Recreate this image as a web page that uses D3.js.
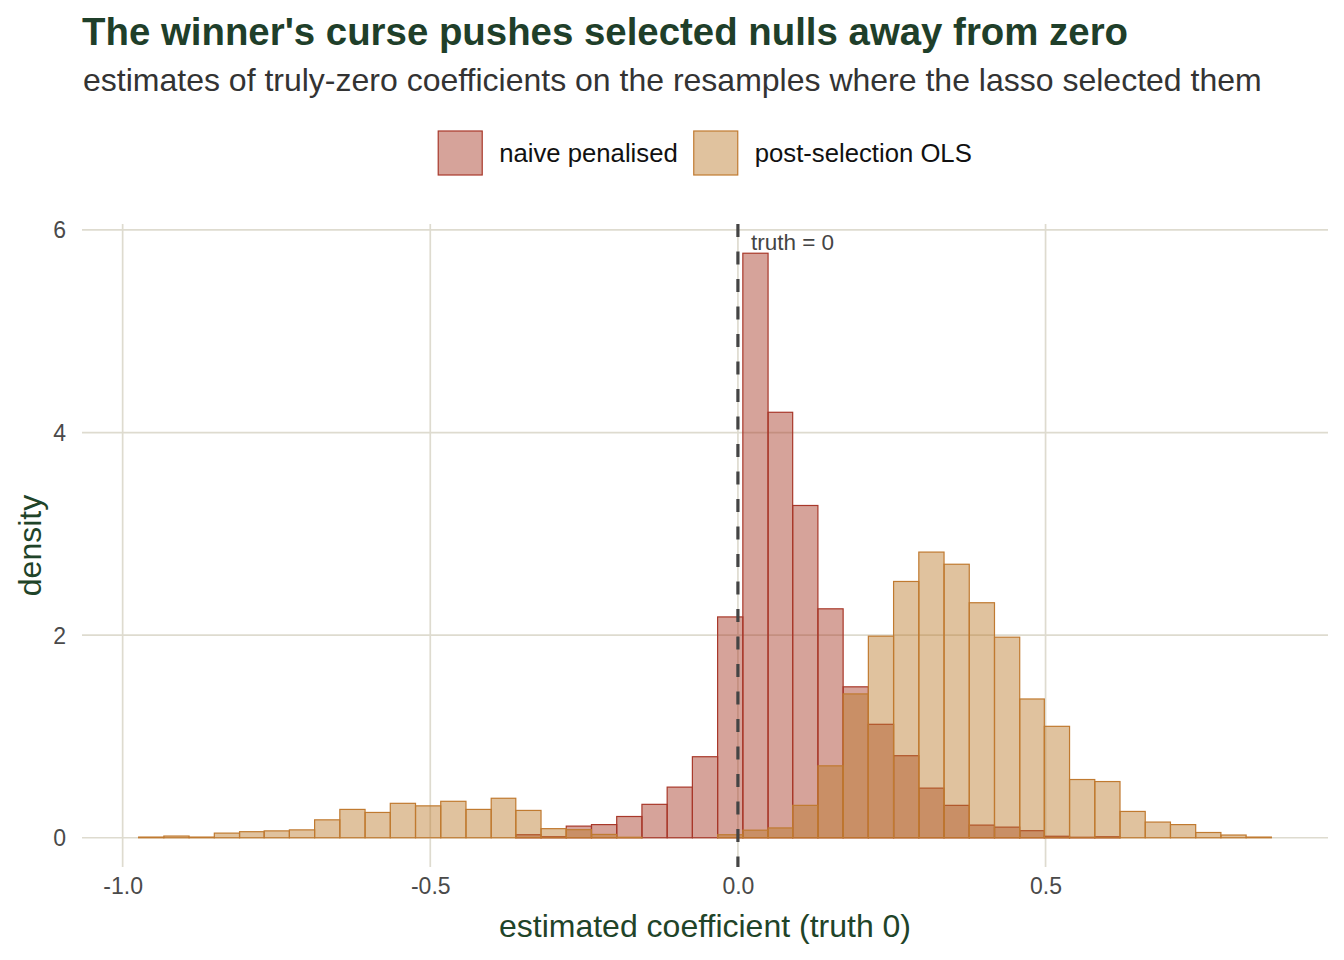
<!DOCTYPE html>
<html>
<head>
<meta charset="utf-8">
<script src="https://cdn.jsdelivr.net/npm/d3@7"></script>
<style>
  html, body { margin: 0; padding: 0; background: #ffffff; }
  svg { display: block; font-family: "Liberation Sans", Arial, Helvetica, sans-serif; }
</style>
</head>
<body>
<svg id="chart" width="1344" height="960"></svg>
<script>
// ---- data ----
const binEdges = [-0.974, -0.933, -0.892, -0.851, -0.810, -0.770, -0.729, -0.688, -0.647, -0.606,
  -0.565, -0.524, -0.483, -0.442, -0.401, -0.361, -0.320, -0.279, -0.238, -0.197,
  -0.156, -0.115, -0.074, -0.033, 0.008, 0.049, 0.089, 0.130, 0.171, 0.212,
  0.253, 0.294, 0.335, 0.376, 0.417, 0.458, 0.498, 0.539, 0.580, 0.621,
  0.662, 0.703, 0.744, 0.785, 0.826, 0.867];
const naiveDensity = [0, 0, 0, 0, 0, 0, 0, 0, 0, 0,
  0, 0, 0, 0, 0, 0.03, 0.01, 0.115, 0.13, 0.21,
  0.33, 0.50, 0.80, 2.18, 5.77, 4.20, 3.28, 2.26, 1.49, 1.12,
  0.81, 0.49, 0.32, 0.125, 0.105, 0.07, 0.015, 0.005, 0.01, 0,
  0, 0, 0, 0, 0];
const olsDensity = [0.007, 0.017, 0.007, 0.046, 0.06, 0.068, 0.078, 0.177, 0.28, 0.25,
  0.34, 0.315, 0.36, 0.28, 0.39, 0.27, 0.09, 0.08, 0.033, 0.005,
  0, 0, 0, 0.03, 0.075, 0.097, 0.32, 0.71, 1.42, 1.99,
  2.53, 2.82, 2.70, 2.32, 1.98, 1.37, 1.10, 0.575, 0.555, 0.26,
  0.155, 0.13, 0.052, 0.027, 0.007];
const seriesNames = ["naive penalised", "post-selection OLS"];
const xTicks = [-1.0, -0.5, 0.0, 0.5];
const xTickLabels = ["-1.0", "-0.5", "0.0", "0.5"];
const yTicks = [0, 2, 4, 6];
const yTickLabels = ["0", "2", "4", "6"];
const truthValue = 0;
const titleText = "The winner's curse pushes selected nulls away from zero";
const subtitleText = "estimates of truly-zero coefficients on the resamples where the lasso selected them";
const xTitle = "estimated coefficient (truth 0)";
const yTitle = "density";
const truthLabel = "truth = 0";

// ---- layout ----
const panel = { left: 82, right: 1328, top: 224, bottom: 867 };
const fills = ["#a43320", "#ba7727"];
const strokes = ["#a8382a", "#c07a30"];
const fillAlpha = 0.45;

const svg = d3.select("#chart");

const xMin = d3.min(binEdges), xMax = d3.max(binEdges);
const xPad = (xMax - xMin) * 0.05;
const x = d3.scaleLinear().domain([xMin - xPad, xMax + xPad]).range([panel.left, panel.right]);
const yMaxData = d3.max([d3.max(naiveDensity), d3.max(olsDensity)]);
const yPad = yMaxData * 0.05;
const y = d3.scaleLinear().domain([-yPad, yMaxData + yPad]).range([panel.bottom, panel.top]);

// gridlines
const grid = svg.append("g");
grid.selectAll("line.h").data(yTicks).join("line")
  .attr("x1", panel.left).attr("x2", panel.right)
  .attr("y1", d => y(d)).attr("y2", d => y(d))
  .attr("stroke", "#dedbcf").attr("stroke-width", 1.7);
grid.selectAll("line.v").data(xTicks).join("line")
  .attr("x1", d => x(d)).attr("x2", d => x(d))
  .attr("y1", panel.top).attr("y2", panel.bottom)
  .attr("stroke", "#dedbcf").attr("stroke-width", 1.7);

// bars
const seriesData = [naiveDensity, olsDensity];
seriesData.forEach((vals, si) => {
  const bins = vals.map((v, i) => ({ x0: binEdges[i], x1: binEdges[i + 1], v }));
  svg.append("g").selectAll("rect").data(bins).join("rect")
    .attr("x", d => x(d.x0))
    .attr("width", d => x(d.x1) - x(d.x0))
    .attr("y", d => y(d.v))
    .attr("height", d => y(0) - y(d.v))
    .attr("fill", fills[si]).attr("fill-opacity", fillAlpha)
    .attr("stroke", strokes[si]).attr("stroke-width", 1.2);
});

// truth line
svg.append("line")
  .attr("x1", x(truthValue)).attr("x2", x(truthValue))
  .attr("y1", panel.top).attr("y2", panel.bottom)
  .attr("stroke", "#444444").attr("stroke-width", 3.2)
  .attr("stroke-dasharray", "13,14.5");
svg.append("text")
  .attr("x", x(truthValue) + 13).attr("y", y(yMaxData + yPad) + 26)
  .attr("font-size", 22.5).attr("fill", "#444444")
  .text(truthLabel);

// axes
const xAxis = svg.append("g").attr("transform", `translate(0,${panel.bottom})`)
  .call(d3.axisBottom(x).tickValues(xTicks).tickFormat((d, i) => xTickLabels[i]).tickSize(0).tickPadding(11));
const yAxis = svg.append("g").attr("transform", `translate(${panel.left},0)`)
  .call(d3.axisLeft(y).tickValues(yTicks).tickFormat((d, i) => yTickLabels[i]).tickSize(0).tickPadding(16));
[xAxis, yAxis].forEach(a => {
  a.select(".domain").remove();
  a.selectAll("text").attr("font-size", 23).attr("fill", "#4a4a4a")
    .attr("font-family", "Liberation Sans, Arial, sans-serif");
});
yAxis.selectAll("text").attr("dy", "0.35em");

// axis titles
svg.append("text")
  .attr("x", (panel.left + panel.right) / 2).attr("y", 937)
  .attr("text-anchor", "middle").attr("font-size", 32).attr("fill", "#1f4429")
  .text(xTitle);
svg.append("text")
  .attr("transform", `translate(41,${(panel.top + panel.bottom) / 2}) rotate(-90)`)
  .attr("text-anchor", "middle").attr("font-size", 32).attr("fill", "#1f4429")
  .text(yTitle);

// title
svg.append("text").attr("x", 82).attr("y", 45)
  .attr("font-size", 38.4).attr("font-weight", "bold").attr("fill", "#1f3f2a")
  .text(titleText);
svg.append("text").attr("x", 83).attr("y", 91)
  .attr("font-size", 32).attr("fill", "#333333")
  .text(subtitleText);

// legend
const legend = svg.append("g");
const keySize = 45;
const items = legend.selectAll("g").data(seriesNames).join("g");
items.append("rect")
  .attr("width", keySize - 1).attr("height", keySize - 1)
  .attr("fill", (d, i) => fills[i]).attr("fill-opacity", fillAlpha)
  .attr("stroke", (d, i) => strokes[i]).attr("stroke-width", 1.2);
items.append("text")
  .attr("x", keySize + 16).attr("y", keySize / 2).attr("dy", "0.35em")
  .attr("font-size", 25.7).attr("fill", "#111111")
  .text(d => d);
// position legend items centred over the panel
let offsets = [], cur = 0;
items.each(function (d, i) {
  const w = this.getBBox().width;
  offsets.push(cur);
  cur += w + 16;
});
const totalW = cur - 16;
const legendLeft = (panel.left + panel.right) / 2 - totalW / 2;
items.attr("transform", (d, i) => `translate(${legendLeft + offsets[i]},131)`);
</script>
</body>
</html>
